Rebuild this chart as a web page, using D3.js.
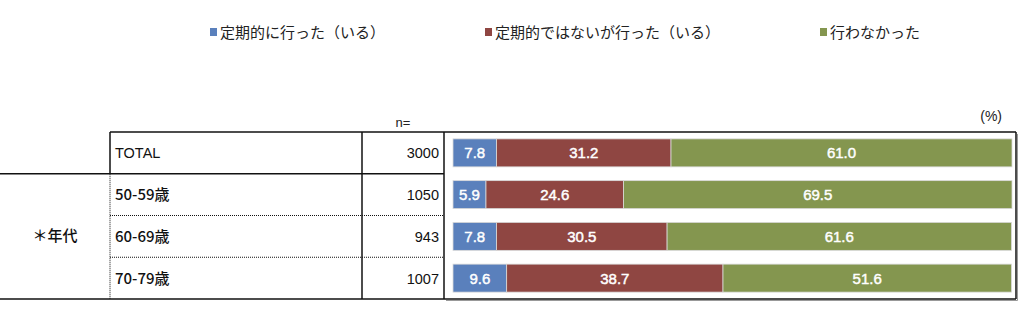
<!DOCTYPE html>
<html><head><meta charset="utf-8">
<script src="https://cdn.jsdelivr.net/npm/d3@7"></script>
<style>
body{margin:0;background:#fff;}
svg{display:block;}
</style></head>
<body><svg id="c" width="1024" height="322"></svg>
<script>
// Row labels, sample sizes and series shares (%)
const categories = ["TOTAL", "50-59歳", "60-69歳", "70-79歳"];
const sampleSizes = [3000, 1050, 943, 1007];
const seriesNames = ["定期的に行った（いる）", "定期的ではないが行った（いる）", "行わなかった"];
const regular = [7.8, 5.9, 7.8, 9.6];
const irregular = [31.2, 24.6, 30.5, 38.7];
const never = [61.0, 69.5, 61.6, 51.6];
const groupLabel = "＊年代";

const colors = ["#5a80bc", "#8f4642", "#84964f"];
const series = [regular, irregular, never];

const svg = d3.select("#c");
const jp = "'Noto Sans CJK JP', sans-serif";
const num = "'Liberation Sans', Arial, sans-serif";

const tableLeft = 110, nCol = 362, chartLeft = 444, chartRight = 1016;
const gridTop = 132, gridBottom = 299;

const x = d3.scaleLinear().domain([0, 100]).range([453, 1012]);
const y = d3.scaleBand().domain(categories).range([gridTop, gridBottom]).paddingInner(0.33).paddingOuter(0.165);
const row = d3.scaleBand().domain(categories).range([gridTop, gridBottom]);

// Legend
const legendX = [210, 485, 820];
const lg = svg.append("g");
seriesNames.forEach((name, i) => {
  lg.append("rect").attr("x", legendX[i]).attr("y", 28).attr("width", 7).attr("height", 8).attr("fill", colors[i]);
  lg.append("text").attr("x", legendX[i] + 10).attr("y", 37.5).attr("font-family", jp).attr("font-size", 15)
    .attr("fill", "#222").text(name);
});

// Header texts
svg.append("text").attr("x", 403).attr("y", 127).attr("text-anchor", "middle").attr("font-family", num)
  .attr("font-size", 13).attr("fill", "#222").text("n=");
svg.append("text").attr("x", 1002).attr("y", 121).attr("text-anchor", "end").attr("font-family", num)
  .attr("font-size", 14).attr("fill", "#222").text("(%)");

// Table grid
const grid = svg.append("g").attr("stroke", "#111").attr("fill", "none");
grid.append("line").attr("x1", tableLeft).attr("x2", chartRight).attr("y1", gridTop).attr("y2", gridTop).attr("stroke-width", 1.5);
grid.append("line").attr("x1", 0).attr("x2", chartRight).attr("y1", gridBottom).attr("y2", gridBottom).attr("stroke-width", 1.5);
grid.append("line").attr("x1", 0).attr("x2", chartLeft).attr("y1", row("50-59歳")).attr("y2", row("50-59歳")).attr("stroke-width", 1.5);
grid.append("line").attr("x1", tableLeft).attr("x2", tableLeft).attr("y1", gridTop).attr("y2", row("50-59歳")).attr("stroke-width", 1.5);
grid.append("line").attr("x1", tableLeft).attr("x2", tableLeft).attr("y1", row("50-59歳")).attr("y2", gridBottom)
  .attr("stroke-width", 1).attr("stroke-dasharray", "1,1");
grid.append("line").attr("x1", nCol).attr("x2", nCol).attr("y1", gridTop).attr("y2", gridBottom).attr("stroke-width", 1.5);
grid.append("line").attr("x1", chartLeft).attr("x2", chartLeft).attr("y1", gridTop).attr("y2", gridBottom).attr("stroke-width", 1.5);
grid.append("line").attr("x1", chartRight).attr("x2", chartRight).attr("y1", gridTop).attr("y2", gridBottom).attr("stroke-width", 1.5);
grid.append("line").attr("x1", chartRight + 1.5).attr("x2", chartRight + 1.5).attr("y1", gridTop + 2).attr("y2", gridBottom + 1.5).attr("stroke", "#999").attr("stroke-width", 1);
grid.append("line").attr("x1", chartLeft + 2).attr("x2", chartRight + 1.5).attr("y1", gridBottom + 1.5).attr("y2", gridBottom + 1.5).attr("stroke", "#999").attr("stroke-width", 1);
["60-69歳", "70-79歳"].forEach(c => {
  grid.append("line").attr("x1", tableLeft).attr("x2", chartLeft).attr("y1", row(c)).attr("y2", row(c))
    .attr("stroke-width", 1).attr("stroke-dasharray", "1,1");
});

// Row labels and n
categories.forEach((c, i) => {
  const cy = row(c) + row.bandwidth() / 2;
  svg.append("text").attr("x", 115).attr("y", cy + 5.5).attr("font-family", i === 0 ? num : jp)
    .attr("font-size", i === 0 ? 14.5 : 15).attr("font-weight", i === 0 ? "normal" : 500)
    .attr("fill", "#111").text(c);
  svg.append("text").attr("x", 439).attr("y", cy + 5.5).attr("text-anchor", "end").attr("font-family", num)
    .attr("font-size", 14.5).attr("fill", "#111").text(sampleSizes[i]);
});
svg.append("text").attr("x", 55).attr("y", (row("50-59歳") + gridBottom) / 2 + 5).attr("text-anchor", "middle")
  .attr("font-family", jp).attr("font-size", 15).attr("font-weight", 500).attr("fill", "#111").text(groupLabel);

// Stacked bars
const data = categories.map((c, i) => {
  let acc = 0;
  return series.map((s, k) => {
    const d = { cat: c, k, v: s[i], x0: acc, x1: acc + s[i] };
    acc += s[i];
    return d;
  });
}).flat();

const bars = svg.append("g");
bars.selectAll("rect").data(data).join("rect")
  .attr("x", d => x(d.x0)).attr("width", d => x(d.x1) - x(d.x0))
  .attr("y", d => y(d.cat)).attr("height", y.bandwidth())
  .attr("fill", d => colors[d.k]).attr("stroke", "#d9d9d9").attr("stroke-width", 0.8);
bars.selectAll("text").data(data).join("text")
  .attr("x", d => (x(d.x0) + x(d.x1)) / 2).attr("y", d => y(d.cat) + y.bandwidth() / 2 + 5.5)
  .attr("text-anchor", "middle").attr("font-family", num).attr("font-size", 15)
  .attr("fill", "#fff").attr("stroke", "#fff").attr("stroke-width", 0.45).text(d => d.v.toFixed(1));
</script></body></html>
